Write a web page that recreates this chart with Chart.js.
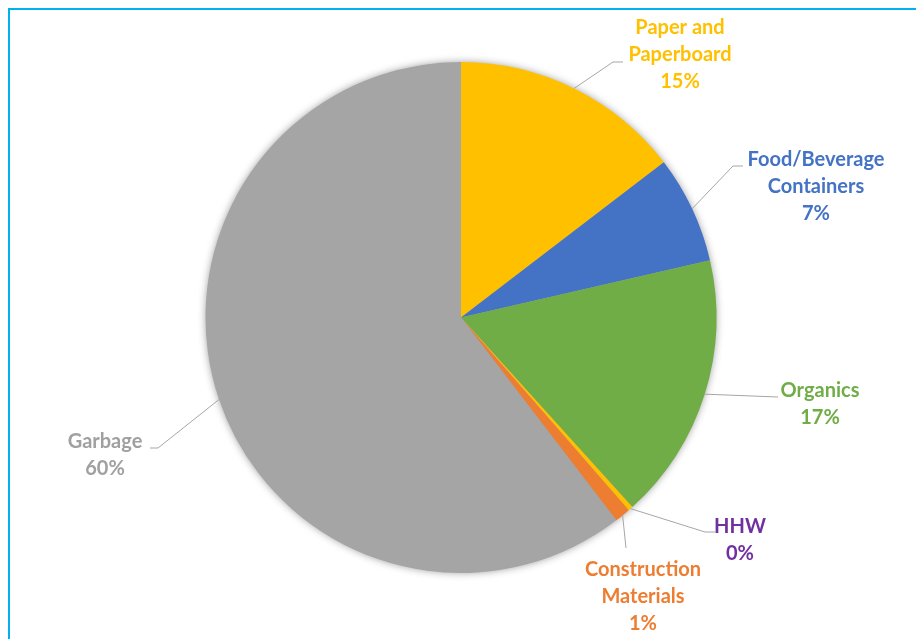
<!DOCTYPE html>
<html>
<head>
<meta charset="utf-8">
<script src="https://cdn.jsdelivr.net/npm/chart.js@4.4.1/dist/chart.umd.min.js"></script>
<style>
  html, body { margin: 0; padding: 0; background: #fff; }
  #wrap { position: relative; width: 916px; height: 639px; overflow: hidden; }
  #frame { position: absolute; left: 8px; top: 8px; width: 1000px; height: 700px;
           border-top: 2px solid #00b0f0; border-left: 2px solid #00b0f0; }
  canvas { position: absolute; left: 0; top: 0; }
</style>
</head>
<body>
<div id="wrap">
  <div id="frame"></div>
  <canvas id="wasteChart" width="916" height="639"></canvas>
</div>
<script>
const categories = ["Paper and Paperboard", "Food/Beverage Containers", "Organics", "HHW", "Construction Materials", "Garbage"];
const shares = [14.6, 6.8, 16.9, 0.3, 1.0, 60.4];
const sliceColors = ["#ffc000", "#4472c4", "#70ad47", "#ffc000", "#ed7d31", "#a5a5a5"];
const labelColors = ["#ffc000", "#4472c4", "#70ad47", "#7030a0", "#ed7d31", "#a0a0a0"];

// label text lines, text centre, and the leader path (elbow, end) for each slice
const labelLines = [["Paper and", "Paperboard"], ["Food/Beverage", "Containers"], ["Organics"], ["HHW"], ["Construction", "Materials"], ["Garbage"]];
const labelSpots = [
  { x: 680, y: 28, elbow: [613, 62], end: [623, 62] },
  { x: 816, y: 160, elbow: [733, 166], end: [743, 166] },
  { x: 820, y: 391, elbow: [778, 397], end: [778, 397] },
  { x: 740, y: 527, elbow: [705, 532], end: [715, 532] },
  { x: 643, y: 570, elbow: [626, 548], end: [626, 548] },
  { x: 105, y: 442, elbow: [158, 448], end: [150, 448] }
];

const total = shares.reduce((a, b) => a + b, 0);

// soft grey glow behind the whole pie
const pieShadow = {
  id: "pieShadow",
  beforeDatasetsDraw(chart) {
    const arc = chart.getDatasetMeta(0).data[0];
    const ctx = chart.ctx;
    ctx.save();
    ctx.shadowColor = "rgba(0,0,0,0.45)";
    ctx.shadowBlur = 9;
    ctx.fillStyle = "#a5a5a5";
    ctx.beginPath();
    ctx.arc(arc.x, arc.y, arc.outerRadius - 1, 0, Math.PI * 2);
    ctx.fill();
    ctx.restore();
  }
};

// leader lines and category / percent labels
const sliceLabels = {
  id: "sliceLabels",
  afterDatasetsDraw(chart) {
    const ctx = chart.ctx;
    const arcs = chart.getDatasetMeta(0).data;
    ctx.save();
    arcs.forEach((arc, i) => {
      const spot = labelSpots[i];
      const mid = (arc.startAngle + arc.endAngle) / 2;
      const sx = arc.x + Math.cos(mid) * arc.outerRadius;
      const sy = arc.y + Math.sin(mid) * arc.outerRadius;
      ctx.strokeStyle = "#a6a6a6";
      ctx.lineWidth = 1;
      ctx.beginPath();
      ctx.moveTo(sx, sy);
      ctx.lineTo(spot.elbow[0], spot.elbow[1]);
      ctx.lineTo(spot.end[0], spot.end[1]);
      ctx.stroke();

      const lines = labelLines[i].concat([Math.round(shares[i] / total * 100) + "%"]);
      ctx.fillStyle = labelColors[i];
      ctx.font = "bold 20px Lato, 'Open Sans', sans-serif";
      ctx.textAlign = "center";
      ctx.textBaseline = "middle";
      lines.forEach((t, k) => ctx.fillText(t, spot.x, spot.y + k * 27));
    });
    ctx.restore();
  }
};

new Chart(document.getElementById("wasteChart"), {
  type: "pie",
  data: {
    labels: categories,
    datasets: [{
      data: shares,
      backgroundColor: sliceColors,
      borderWidth: 0
    }]
  },
  options: {
    responsive: false,
    animation: false,
    layout: { padding: { top: 62, bottom: 66, left: 6, right: 0 } },
    plugins: {
      legend: { display: false },
      tooltip: { enabled: false }
    }
  },
  plugins: [pieShadow, sliceLabels]
});
</script>
</body>
</html>
